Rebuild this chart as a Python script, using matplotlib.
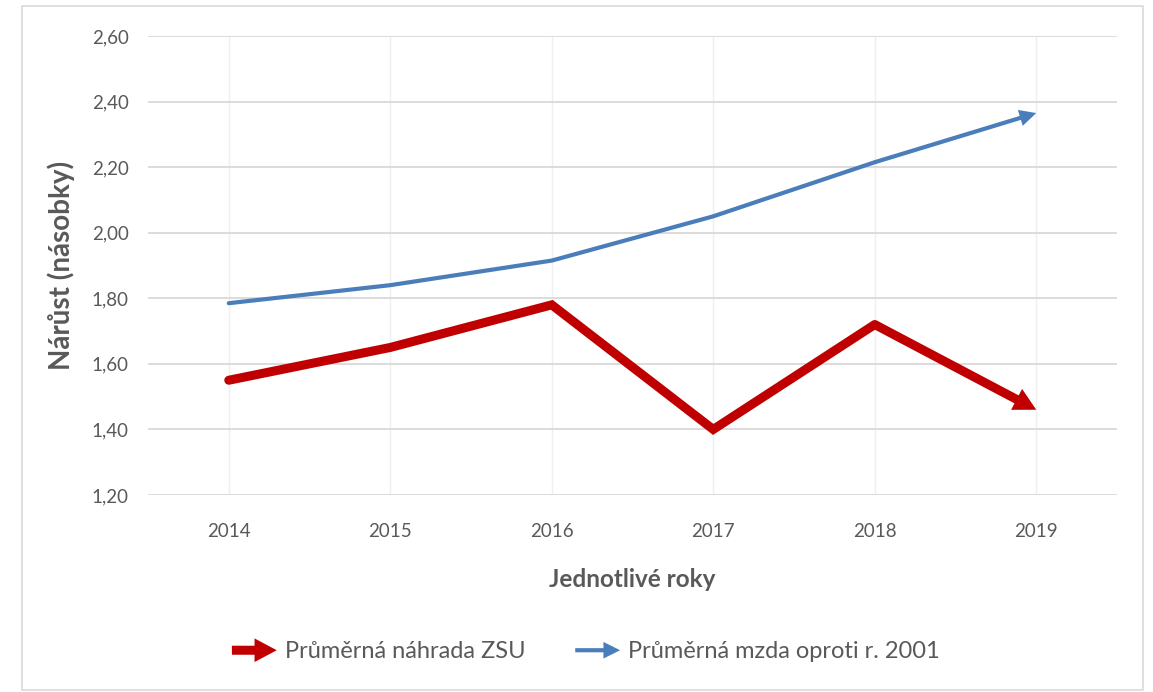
import numpy as np
import matplotlib.pyplot as plt
from matplotlib.patches import FancyArrowPatch, Rectangle
from matplotlib.legend_handler import HandlerPatch

years = ["2014", "2015", "2016", "2017", "2018", "2019"]
nahrada_zsu = [1.55, 1.65, 1.78, 1.40, 1.72, 1.46]
mzda_2001 = [1.785, 1.84, 1.915, 2.05, 2.215, 2.365]
y_ticks = [1.20, 1.40, 1.60, 1.80, 2.00, 2.20, 2.40, 2.60]
y_tick_labels = ["1,20", "1,40", "1,60", "1,80", "2,00", "2,20", "2,40", "2,60"]

RED = "#c00000"
BLUE = "#4a7ebb"
GRAY = "#595959"

RED_HEAD = "simple,head_length=1.6,head_width=1.7,tail_width=0.65"
BLUE_HEAD = "simple,head_length=1.2,head_width=1.2,tail_width=0.3"

plt.rcParams["font.family"] = ["Lato", "DejaVu Sans"]

fig = plt.figure(figsize=(11.53, 6.92), dpi=100)
ax = fig.add_axes([148 / 1153, 1 - 495 / 692, (1117 - 148) / 1153, (495 - 36) / 692])

# frame around the whole chart
fig.patches.append(Rectangle((22 / 1153, 2 / 692), 1121 / 1153, 684 / 692,
                             transform=fig.transFigure, fill=False,
                             edgecolor="#d9d9d9", lw=1.2))

x = np.arange(len(years))


def arrow_line(xs, ys, color, lw, head):
    # body without the last segment, last segment drawn as a filled arrow
    ax.plot(xs[:-1], ys[:-1], color=color, lw=lw, solid_capstyle="round",
            solid_joinstyle="miter", zorder=3)
    ax.annotate("", xy=(xs[-1], ys[-1]), xytext=(xs[-2], ys[-2]),
                arrowprops=dict(arrowstyle=head, color=color, lw=0,
                                shrinkA=0, shrinkB=0, mutation_scale=10),
                zorder=3)


arrow_line(x, mzda_2001, BLUE, 3.0, BLUE_HEAD)
arrow_line(x, nahrada_zsu, RED, 6.5, RED_HEAD)

ax.set_xlim(-0.5, len(years) - 0.5)
ax.set_ylim(1.2, 2.6)
ax.set_xticks(x)
ax.set_xticklabels(years)
ax.set_yticks(y_ticks)
ax.set_yticklabels(y_tick_labels)
ax.tick_params(length=0, labelsize=13.5, colors=GRAY)
ax.tick_params(axis="y", pad=14)
ax.tick_params(axis="x", pad=20)

ax.grid(axis="y", color="#d9d9d9", lw=1.3)
ax.grid(axis="x", color="#efefef", lw=1.0)
ax.set_axisbelow(True)
for s in ax.spines.values():
    s.set_visible(False)

ax.set_ylabel("Nárůst (násobky)", fontsize=20, fontweight="bold", color=GRAY, labelpad=12)
ax.set_xlabel("Jednotlivé roky", fontsize=17.5, fontweight="bold", color=GRAY, labelpad=20)


def make_arrow(legend, orig_handle, xdescent, ydescent, width, height, fontsize):
    p = FancyArrowPatch((-xdescent, height / 2), (-xdescent + width, height / 2),
                        arrowstyle=orig_handle.get_arrowstyle(),
                        mutation_scale=10, color=orig_handle.get_facecolor(),
                        lw=0, shrinkA=0, shrinkB=0)
    return p


h_red = FancyArrowPatch((0, 0), (1, 0), arrowstyle=RED_HEAD, color=RED, lw=0)
h_blue = FancyArrowPatch((0, 0), (1, 0), arrowstyle=BLUE_HEAD, color=BLUE, lw=0)
fig.legend([h_red, h_blue], ["Průměrná náhrada ZSU", "Průměrná mzda oproti r. 2001"],
           handler_map={FancyArrowPatch: HandlerPatch(patch_func=make_arrow)},
           loc="center", bbox_to_anchor=(586 / 1153, 1 - 652 / 692), ncol=2,
           frameon=False, fontsize=17, labelcolor=GRAY, handlelength=1.9,
           handletextpad=0.35, columnspacing=2.1)

fig.savefig("out.png", dpi=100)
